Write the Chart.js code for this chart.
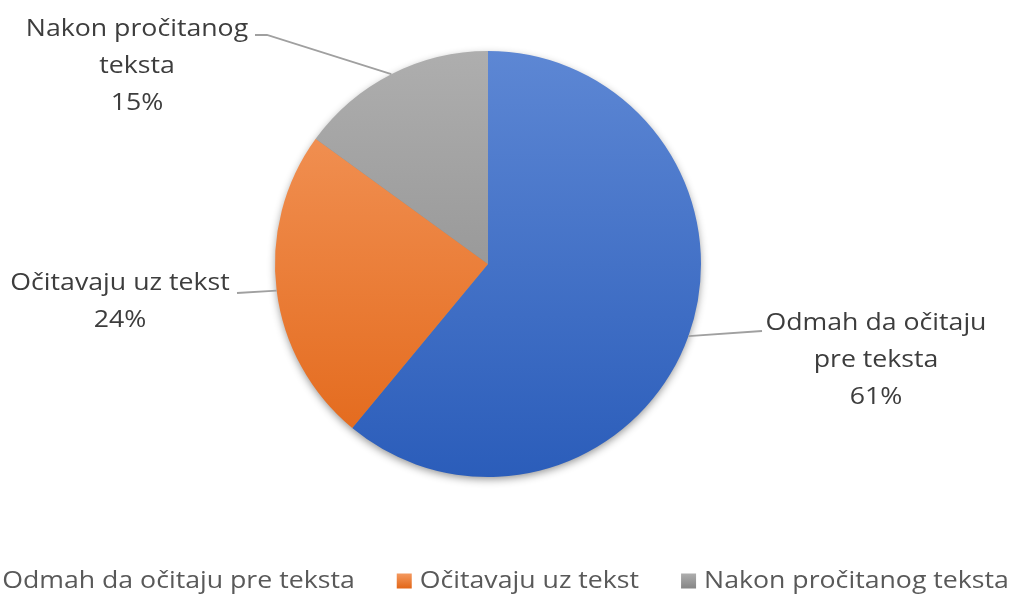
<!DOCTYPE html>
<html>
<head>
<meta charset="utf-8">
<script src="https://cdn.jsdelivr.net/npm/chart.js@4.4.1/dist/chart.umd.min.js"></script>
<style>
  html, body { margin: 0; padding: 0; background: #fff; }
  canvas { display: block; }
</style>
</head>
<body>
<canvas id="pieChart" width="1014" height="595"></canvas>
<script>
// Chart data
const categories = ['Odmah da očitaju pre teksta', 'Očitavaju uz tekst', 'Nakon pročitanog teksta'];
const labelLines = [['Odmah da očitaju', 'pre teksta'], ['Očitavaju uz tekst'], ['Nakon pročitanog', 'teksta']];
const percentages = [61, 24, 15];

// Slice gradients (top -> bottom of the pie)
const sliceGradients = [
  ['#5d87d4', '#2b5dba'],
  ['#f4995f', '#e26617'],
  ['#aeaeae', '#858585']
];

// Where Excel put the data labels (text block + leader elbows)
const labelLayout = [
  { cx: 876, top: 323, elbow: [[762, 331]] },
  { cx: 120, top: 283, elbow: [[237, 293]] },
  { cx: 137, top: 29, elbow: [[267, 35], [255, 35]] }
];

const labelFont = '500 23px "Open Sans"';
const labelStretch = 1.16;
const lineHeight = 37;

function stretchedText(ctx, text, x, y, sx) {
  ctx.save();
  ctx.translate(x, y);
  ctx.scale(sx, 1);
  ctx.fillText(text, 0, 0);
  ctx.restore();
}

const pieShadow = {
  id: 'pieShadow',
  beforeDatasetsDraw(chart) {
    const arc = chart.getDatasetMeta(0).data[0];
    if (!arc) return;
    const ctx = chart.ctx;
    ctx.save();
    ctx.shadowColor = 'rgba(0,0,0,0.45)';
    ctx.shadowBlur = 9;
    ctx.shadowOffsetY = 3;
    ctx.fillStyle = '#888';
    ctx.beginPath();
    ctx.arc(arc.x, arc.y, arc.outerRadius - 1, 0, Math.PI * 2);
    ctx.fill();
    ctx.restore();
  }
};

const sliceLabels = {
  id: 'sliceLabels',
  afterDatasetsDraw(chart) {
    const ctx = chart.ctx;
    const arcs = chart.getDatasetMeta(0).data;
    arcs.forEach((arc, i) => {
      const mid = (arc.startAngle + arc.endAngle) / 2;
      const ex = arc.x + arc.outerRadius * Math.cos(mid);
      const ey = arc.y + arc.outerRadius * Math.sin(mid);
      const lay = labelLayout[i];
      // leader line
      ctx.save();
      ctx.strokeStyle = '#a0a0a0';
      ctx.lineWidth = 1.8;
      ctx.beginPath();
      ctx.moveTo(ex, ey);
      lay.elbow.forEach(p => ctx.lineTo(p[0], p[1]));
      ctx.stroke();
      ctx.restore();
      // text
      ctx.save();
      ctx.font = labelFont;
      ctx.fillStyle = '#3d3d3d';
      ctx.textAlign = 'center';
      ctx.textBaseline = 'middle';
      const lines = labelLines[i].concat([percentages[i] + '%']);
      lines.forEach((t, k) => stretchedText(ctx, t, lay.cx, lay.top + k * lineHeight, labelStretch));
      ctx.restore();
    });
  }
};

const bottomLegend = {
  id: 'bottomLegend',
  afterDraw(chart) {
    const ctx = chart.ctx;
    const arc = chart.getDatasetMeta(0).data[0];
    const centerX = (arc ? arc.x : chart.width / 2) + 6;
    const y = 581;
    const box = 15, pad = 8, gap = 42;
    ctx.save();
    ctx.font = labelFont;
    const widths = categories.map(c => ctx.measureText(c).width * labelStretch);
    const itemW = widths.map(w => box + pad + w);
    const total = itemW.reduce((a, b) => a + b, 0) + gap * (categories.length - 1);
    let x = centerX - total / 2;
    ctx.textBaseline = 'middle';
    ctx.textAlign = 'left';
    categories.forEach((c, i) => {
      const g = ctx.createLinearGradient(0, y - box / 2, 0, y + box / 2);
      g.addColorStop(0, sliceGradients[i][0]);
      g.addColorStop(1, sliceGradients[i][1]);
      ctx.fillStyle = g;
      ctx.fillRect(x, y - box / 2, box, box);
      ctx.fillStyle = '#595959';
      stretchedText(ctx, c, x + box + pad, y, labelStretch);
      x += itemW[i] + gap;
    });
    ctx.restore();
  }
};

function sliceColor(context) {
  const chart = context.chart;
  const i = context.dataIndex;
  const area = chart.chartArea;
  if (!area) return sliceGradients[i][0];
  const g = chart.ctx.createLinearGradient(0, area.top, 0, area.bottom);
  g.addColorStop(0, sliceGradients[i][0]);
  g.addColorStop(1, sliceGradients[i][1]);
  return g;
}

new Chart(document.getElementById('pieChart'), {
  type: 'pie',
  data: {
    labels: categories,
    datasets: [{
      data: percentages,
      backgroundColor: sliceColor,
      borderWidth: 0
    }]
  },
  options: {
    responsive: false,
    animation: false,
    layout: { padding: { top: 51, bottom: 118, left: 0, right: 38 } },
    plugins: {
      legend: { display: false },
      tooltip: { enabled: false }
    }
  },
  plugins: [pieShadow, sliceLabels, bottomLegend]
});
</script>
</body>
</html>
